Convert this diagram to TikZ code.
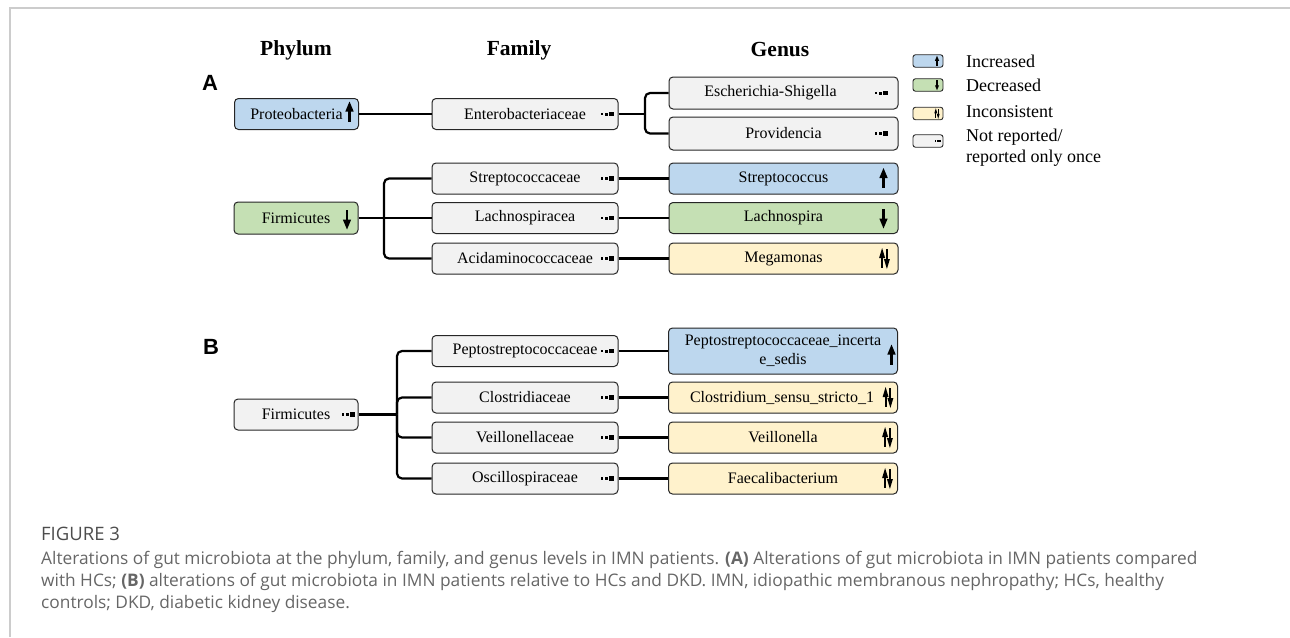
\documentclass[tikz,border=0pt]{standalone}
\usepackage{fontspec}
\setmainfont{Liberation Serif}
\newfontfamily\capfont{Open Sans}
\newfontfamily\labfont{Liberation Sans}
\usetikzlibrary{calc}
\definecolor{incB}{HTML}{BDD7EE}
\definecolor{decG}{HTML}{C5E0B4}
\definecolor{incY}{HTML}{FFF2CC}
\definecolor{nrG}{HTML}{F2F2F2}
\definecolor{frameC}{HTML}{CCCCCC}
\definecolor{capC}{HTML}{666666}
\definecolor{capH}{HTML}{4D4D4D}
\begin{document}
\begin{tikzpicture}[x=1pt,y=-1pt,
  box/.style={draw=black!85, line width=1pt, rounded corners=4pt, minimum height=31pt,
    inner sep=0pt, align=center, font=\fontsize{16}{19}\selectfont},
  famw/.style={minimum width=186pt},
  genw/.style={minimum width=229pt},
  phyw/.style={minimum width=124pt},
  conn/.style={line width=2.2pt, black},
  bconn/.style={conn, rounded corners=5pt},
  head/.style={font=\fontsize{21.5}{24}\selectfont\bfseries},
  plab/.style={font=\labfont\fontsize{22}{24}\selectfont\bfseries},
  legbox/.style={draw=black!85, line width=0.9pt, rounded corners=2.5pt, minimum width=30pt,
    minimum height=12.5pt, inner sep=0pt},
  legtxt/.style={anchor=west, inner sep=0pt, align=left, font=\fontsize{18}{21}\selectfont},
  captxt/.style={anchor=base west, inner sep=0pt, text=capC, font=\capfont\fontsize{17.3}{20}\selectfont},
  upar/.pic={\fill (-1.4,9.5) rectangle (1.4,-2); \fill (-4.2,-0.5) -- (4.2,-0.5) -- (0,-10.5) -- cycle;},
  downar/.pic={\fill (-1.4,-9.5) rectangle (1.4,2); \fill (-4.2,0.5) -- (4.2,0.5) -- (0,10.5) -- cycle;},
  updownar/.pic={\fill (-3.4,9.5) rectangle (-1.4,-2); \fill (-5.4,-0.5) -- (0.6,-0.5) -- (-2.4,-10.5) -- cycle;
    \fill (1.4,-9.5) rectangle (3.4,2); \fill (-0.6,0.5) -- (5.4,0.5) -- (2.4,10.5) -- cycle;},
  dashsym/.pic={\fill (0,-1.3) rectangle (2.4,1.3); \fill (4,-1.5) rectangle (6.6,1.5); \fill (7.6,-2.2) rectangle (13,2.2);}
]
\useasboundingbox (0,0) rectangle (1290,637);
% frame
\draw[frameC, line width=2pt] (9.5,637) -- (9.5,7.5) -- (1290,7.5);

% headers
\node[head] (hP) at (296,50) {Phylum};
\node[head] (hF) at (519,50) {Family};
\node[head] (hG) at (780,50) {Genus};
\node[plab] (lA) at (210,83) {A};
\node[plab] (lB) at (211,347) {B};

% panel A
\node[box, phyw, fill=incB] (pro) at (296.5,114) {Proteobacteria};
\node[box, famw, fill=nrG] (ent) at (525,114) {Enterobacteriaceae};
\node[box, genw, fill=nrG, minimum height=32pt] (esch) at (783.5,93) {\hspace{-26pt}Escherichia-Shigella};
\node[box, genw, fill=nrG, minimum height=33pt] (prov) at (783.5,133.5) {Providencia};

\node[box, phyw, fill=decG, minimum height=32pt] (fir) at (296,218) {Firmicutes};
\node[box, famw, fill=nrG] (strc) at (525,178.5) {Streptococcaceae};
\node[box, famw, fill=nrG] (lach) at (525,218) {Lachnospiracea};
\node[box, famw, fill=nrG] (acid) at (525,258.5) {Acidaminococcaceae};
\node[box, genw, fill=incB] (strep) at (783.5,178.5) {Streptococcus};
\node[box, genw, fill=decG] (lchn) at (783.5,218) {Lachnospira};
\node[box, genw, fill=incY] (mega) at (783.5,258.5) {Megamonas};

% panel B
\node[box, phyw, fill=nrG] (firB) at (296,414.5) {Firmicutes};
\node[box, famw, fill=nrG] (pepF) at (525,351) {Peptostreptococcaceae};
\node[box, famw, fill=nrG] (cloF) at (525,397.5) {Clostridiaceae};
\node[box, famw, fill=nrG] (veiF) at (525,437.5) {Veillonellaceae};
\node[box, famw, fill=nrG] (oscF) at (525,478.5) {Oscillospiraceae};
\node[box, genw, fill=incB, minimum height=46pt] (pepG) at (783,351) {Peptostreptococcaceae\_incerta\\e\_sedis};
\node[box, genw, fill=incY] (cloG) at (783,397.5) {\hspace{-2pt}Clostridium\_sensu\_stricto\_1};
\node[box, genw, fill=incY] (veiG) at (783,437.5) {Veillonella};
\node[box, genw, fill=incY] (faeG) at (783,478.5) {Faecalibacterium};

% icons
\pic at (349.5,112) {upar};
\pic at (347,219) {downar};
\pic at (601,114) {dashsym};
\pic at (875,93) {dashsym};
\pic at (875,133.5) {dashsym};
\pic at (601,178.5) {dashsym};
\pic at (601,218) {dashsym};
\pic at (601,258.5) {dashsym};
\pic at (883.5,178.5) {upar};
\pic at (883.5,218) {downar};
\pic at (884.5,258.5) {updownar};
\pic at (342,414.5) {dashsym};
\pic at (601,351) {dashsym};
\pic at (601,397.5) {dashsym};
\pic at (601,437.5) {dashsym};
\pic at (601,478.5) {dashsym};
\pic at (891.5,355) {upar};
\pic at (888,397.5) {updownar};
\pic at (887.5,437.5) {updownar};
\pic at (887.5,478.5) {updownar};

% connectors A
\draw[conn] (pro.east) -- (ent.west);
\coordinate (jE) at (645,114);
\draw[conn] (ent.east) -- (jE);
\draw[bconn] (jE) |- (esch.west);
\draw[bconn] (jE) |- (prov.west);
\coordinate (jF) at (384,218);
\draw[conn] (fir.east) -- (jF);
\draw[bconn] (jF) |- (strc.west);
\draw[conn] (jF) -- (lach.west);
\draw[bconn] (jF) |- (acid.west);
\draw[conn] (strc.east) -- (strep.west);
\draw[conn] (lach.east) -- (lchn.west);
\draw[conn] (acid.east) -- (mega.west);

% connectors B
\coordinate (jB) at (397,414.5);
\draw[conn] (firB.east) -- (jB);
\draw[bconn] (jB) |- (pepF.west);
\draw[bconn] (jB) |- (cloF.west);
\draw[bconn] (jB) |- (veiF.west);
\draw[bconn] (jB) |- (oscF.west);
\draw[conn] (pepF.east) -- (pepG.west);
\draw[conn] (cloF.east) -- (cloG.west);
\draw[conn] (veiF.east) -- (veiG.west);
\draw[conn] (oscF.east) -- (faeG.west);

% legend
\node[legbox, fill=incB] (lg1) at (928,61) {};
\node[legbox, fill=decG] (lg2) at (928,85) {};
\node[legbox, fill=incY] (lg3) at (928,113.5) {};
\node[legbox, fill=nrG] (lg4) at (928,141) {};
\pic[scale=0.5] at (937,61) {upar};
\pic[scale=0.5] at (937,85) {downar};
\pic[scale=0.5] at (937,113.5) {updownar};
\pic[scale=0.45] at (935,141) {dashsym};
\node[legtxt] (lt1) at (966,61) {Increased};
\node[legtxt] (lt2) at (966,85) {Decreased};
\node[legtxt] (lt3) at (966,112) {Inconsistent};
\node[legtxt] (lt4) at (966,147.5) {Not reported/\\reported only once};

% caption
\node[captxt, text=capH, font=\capfont\fontsize{18.5}{20}\selectfont] (fig) at (41,540) {FIGURE 3};
\node[captxt] (c1) at (41,564) {Alterations of gut microbiota at the phylum, family, and genus levels in IMN patients. \textbf{(A)} Alterations of gut microbiota in IMN patients compared};
\node[captxt] (c2) at (41,586) {with HCs; \textbf{(B)} alterations of gut microbiota in IMN patients relative to HCs and DKD. IMN, idiopathic membranous nephropathy; HCs, healthy};
\node[captxt] (c3) at (41,608) {controls; DKD, diabetic kidney disease.};
\end{tikzpicture}
\end{document}
